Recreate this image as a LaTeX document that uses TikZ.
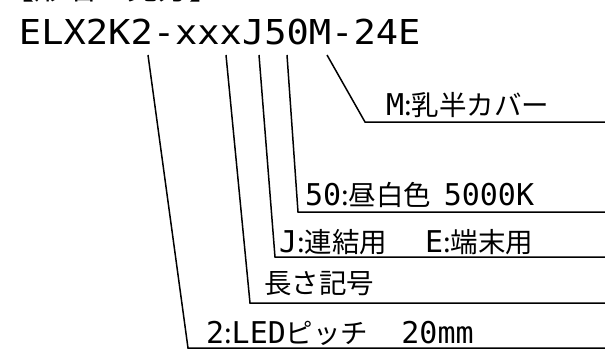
\documentclass[tikz,border=0pt]{standalone}
\usepackage{fontspec}
\newfontfamily\jp{Noto Sans CJK JP}
\newfontfamily\lat{DejaVu Sans Mono}
\newfontfamily\codefont[FakeStretch=1.08]{DejaVu Sans Mono}
\newcommand\Jp[1]{{\jp\fontsize{27.5}{30}\selectfont #1}}
\newcommand\La[1]{{\lat\fontsize{30}{32}\selectfont #1}}
\begin{document}
\begin{tikzpicture}[x=1pt,y=-1pt,
  lbl/.style={anchor=base west, inner sep=0pt, outer sep=0pt},
  leader/.style={line width=1.5pt, line join=miter}]
\useasboundingbox (0,0) rectangle (605,361);
\fill[white] (0,0) rectangle (605,361);
% title (mostly cut off at the top)
\node[lbl] (title) at (4,0) {\jp\fontsize{31}{34}\selectfont 【形名の見方】};
% code
\node[lbl] (code) at (19,45) {\codefont\fontsize{34.3}{36}\selectfont ELX2K2-xxxJ50M-24E};
% labels
\node[lbl] (lm) at (386,115) {\La{M}\Jp{:乳半カバー}};
\node[lbl] (l50) at (305,205) {\La{50}\Jp{:昼白色}\hspace{12.5pt}\La{5000K}};
\node[lbl] (lj) at (279,252) {\La{J}\Jp{:連結用}\hspace{38pt}\La{E}\Jp{:端末用}};
\node[lbl] (llen) at (264,293) {\Jp{長さ記号}};
\node[lbl] (l2) at (206,343) {\La{2}\Jp{:}\La{LED}\Jp{ピッチ}\hspace{33pt}\La{20mm}};
% leader coordinates
\coordinate (s1) at (148,55); \coordinate (c1) at (188,348); \coordinate (e1) at (605,348);
\coordinate (s2) at (226,55); \coordinate (c2) at (250,303); \coordinate (e2) at (605,303);
\coordinate (s3) at (259,55); \coordinate (c3) at (275,257); \coordinate (e3) at (605,257);
\coordinate (s4) at (287,55); \coordinate (c4) at (298,212); \coordinate (e4) at (605,212);
\coordinate (s5) at (327,55); \coordinate (c5) at (365,122); \coordinate (e5) at (605,122);
\draw[leader] (s1) -- (c1) -- (e1);
\draw[leader] (s2) -- (c2) -- (e2);
\draw[leader] (s3) -- (c3) -- (e3);
\draw[leader] (s4) -- (c4) -- (e4);
\draw[leader] (s5) -- (c5) -- (e5);
\end{tikzpicture}
\end{document}
